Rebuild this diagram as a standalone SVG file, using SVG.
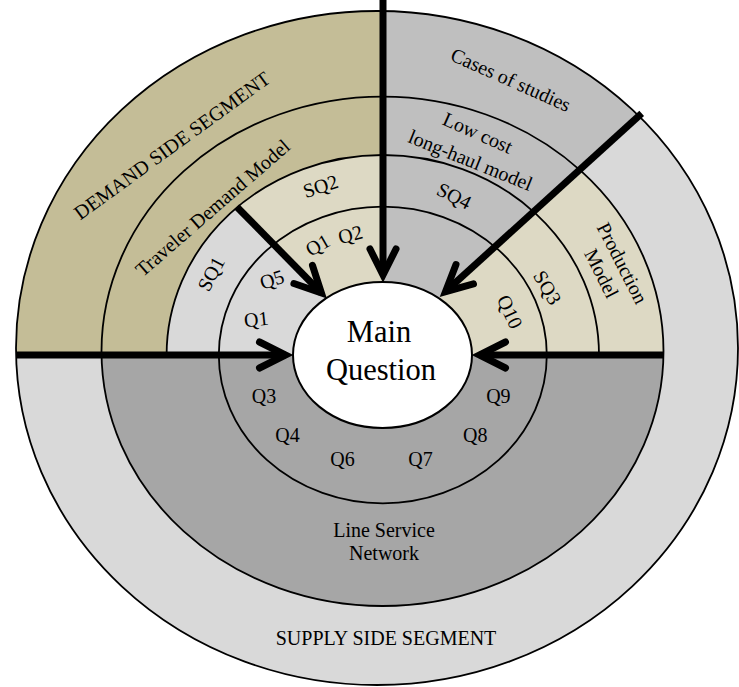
<svg xmlns="http://www.w3.org/2000/svg" width="739" height="687" viewBox="0 0 739 687">
  <style>
    text { font-family: "Liberation Serif", "Times New Roman", serif; font-size: 20px; fill: #000; text-anchor: middle; }
    .big { font-size: 30.5px; }
    .ring { fill: none; stroke: #000; stroke-width: 1.8; }
    .thick { fill: none; stroke: #000; stroke-width: 7; }
    .tan { fill: #c4bd97; }
    .ltan { fill: #ddd9c4; }
    .lgrey { fill: #d9d9d9; }
    .mgrey { fill: #bfbfbf; }
    .dgrey { fill: #a6a6a6; }
  </style>
  <defs>
    <!-- ring outlines -->
    <ellipse id="ringO" cx="377" cy="348" rx="361" ry="337"/>
    <ellipse id="ringA" cx="382.5" cy="351.3" rx="281" ry="254.7"/>
    <path id="ringB" d="M166.6,355 A216.2,200 0 0 1 599,355 Z"/>
    <!-- angular sectors of the upper half -->
    <clipPath id="wUL"><polygon points="383,355 -50,355 -50,-50 383,-50"/></clipPath>
    <clipPath id="wULa"><polygon points="382.8,355 -50,355 -50,-84.3"/></clipPath>
    <clipPath id="wULb"><polygon points="382.8,355 -50,-84.3 383,-84.3"/></clipPath>
    <clipPath id="wUR1"><polygon points="383,355 383,-50 821.3,-50 382.8,348.7"/></clipPath>
    <clipPath id="wUR2"><polygon points="382.8,348.7 821.3,-50 900,-50 900,355 383,355"/></clipPath>
    <marker id="head" markerUnits="userSpaceOnUse" orient="auto" markerWidth="80" markerHeight="80" viewBox="-40 -40 80 80" refX="0" refY="0" overflow="visible">
      <path d="M-26,-13 L0,0 L-26,13" fill="none" stroke="#000" stroke-width="7" stroke-linecap="round" stroke-linejoin="miter"/>
    </marker>
  </defs>

  <g id="supply-side-segment">
    <use href="#ringO" class="lgrey"/>
    <text x="386" y="645">SUPPLY SIDE SEGMENT</text>
  </g>
  <g id="demand-side-segment">
    <use href="#ringO" class="tan" clip-path="url(#wUL)"/>
    <text transform="translate(176,151) rotate(-36)">DEMAND SIDE SEGMENT</text>
  </g>
  <g id="cases-of-studies">
    <use href="#ringO" class="mgrey" clip-path="url(#wUR1)"/>
    <text transform="translate(508,86) rotate(24)">Cases of studies</text>
  </g>

  <g id="line-service-network">
    <use href="#ringA" class="dgrey"/>
    <text x="384" y="537">Line Service</text>
    <text x="384" y="560">Network</text>
  </g>
  <g id="traveler-demand-model">
    <use href="#ringA" class="tan" clip-path="url(#wUL)"/>
    <text transform="translate(217,213) rotate(-41)">Traveler Demand Model</text>
  </g>
  <g id="low-cost-long-haul-model">
    <use href="#ringA" class="mgrey" clip-path="url(#wUR1)"/>
    <text transform="translate(475,139) rotate(24)">Low cost</text>
    <text transform="translate(468,166.5) rotate(22)">long-haul model</text>
  </g>
  <g id="production-model">
    <use href="#ringA" class="ltan" clip-path="url(#wUR2)"/>
    <text transform="translate(616.3,266.2) rotate(63)">Production</text>
    <text transform="translate(595.5,276.5) rotate(63)">Model</text>
  </g>

  <g id="sq1">
    <use href="#ringB" class="lgrey" clip-path="url(#wULa)"/>
    <text transform="translate(217,277) rotate(-62)">SQ1</text>
    <text transform="translate(274,286) rotate(-18)">Q5</text>
    <text transform="translate(257,326) rotate(-6)">Q1</text>
  </g>
  <g id="sq2">
    <use href="#ringB" class="ltan" clip-path="url(#wULb)"/>
    <text transform="translate(322.7,192.7) rotate(-18)">SQ2</text>
    <text transform="translate(321,251) rotate(-30)">Q1</text>
    <text transform="translate(352,241) rotate(-15)">Q2</text>
  </g>
  <g id="sq4">
    <use href="#ringB" class="mgrey" clip-path="url(#wUR1)"/>
    <text transform="translate(451,202) rotate(27)">SQ4</text>
  </g>
  <g id="sq3">
    <use href="#ringB" class="ltan" clip-path="url(#wUR2)"/>
    <text transform="translate(541.5,291) rotate(60)">SQ3</text>
    <text transform="translate(503.7,314.7) rotate(65)">Q10</text>
  </g>

  <g id="lower-questions">
    <text x="264" y="403">Q3</text>
    <text x="287.5" y="442">Q4</text>
    <text x="342.5" y="466">Q6</text>
    <text x="420.5" y="466">Q7</text>
    <text x="475.3" y="442">Q8</text>
    <text x="498.4" y="403">Q9</text>
  </g>

  <g id="ring-lines">
    <use href="#ringO" class="ring" stroke-width="2"/>
    <use href="#ringA" class="ring"/>
    <path class="ring" d="M166.6,355 A216.2,200 0 0 1 599,355"/>
    <ellipse class="ring" cx="382.8" cy="355" rx="164" ry="148.3"/>
  </g>

  <g id="main-question">
    <ellipse cx="382.5" cy="355" rx="89.5" ry="73" fill="#fff" stroke="#000" stroke-width="2"/>
    <text class="big" x="379" y="342">Main</text>
    <text class="big" x="381" y="380">Question</text>
  </g>

  <g id="connectors">
    <line class="thick" x1="383" y1="0" x2="383" y2="275" marker-end="url(#head)"/>
    <line class="thick" x1="16" y1="355" x2="285.5" y2="355" marker-end="url(#head)"/>
    <line class="thick" x1="663" y1="355" x2="479.5" y2="355" marker-end="url(#head)"/>
    <line class="thick" stroke-width="6" x1="236.7" y1="206.7" x2="321.4" y2="293" marker-end="url(#head)"/>
    <line class="thick" x1="641.7" y1="113.3" x2="445.5" y2="291.7" marker-end="url(#head)"/>
  </g>
</svg>
